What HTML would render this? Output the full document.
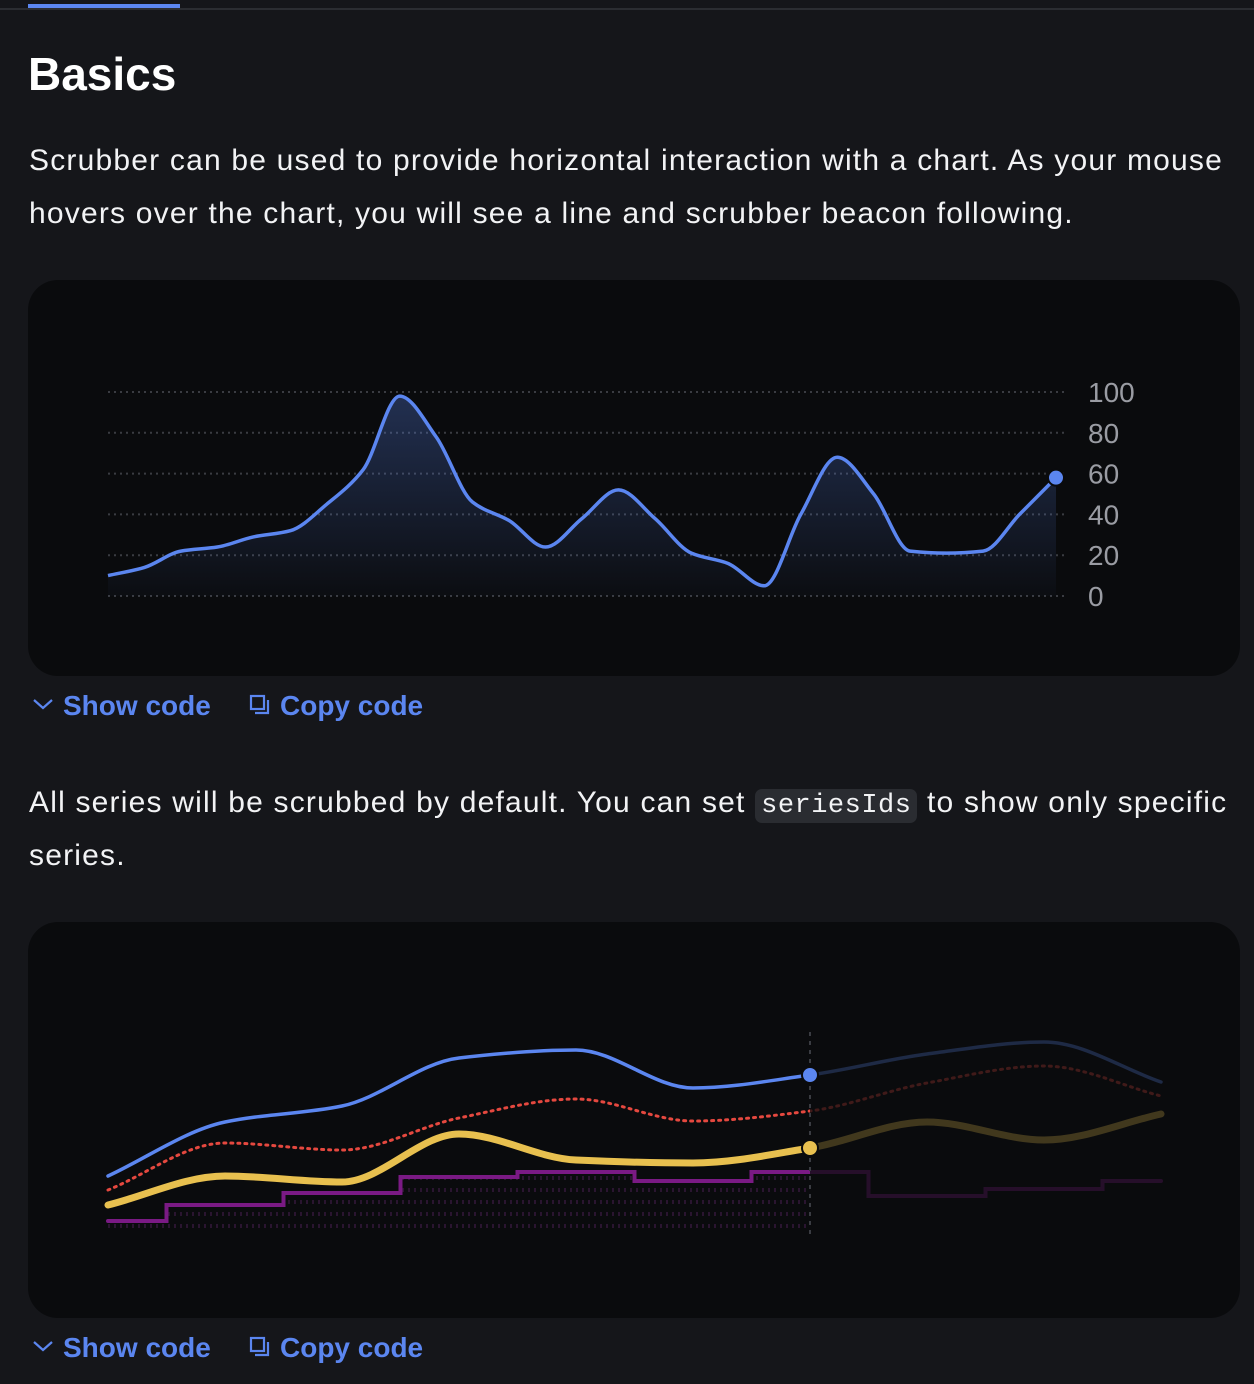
<!DOCTYPE html>
<html><head><meta charset="utf-8">
<style>
body{margin:0;width:1254px;height:1384px;background:#15161a;font-family:"Liberation Sans",sans-serif;color:#f2f3f5;position:relative;overflow:hidden}
.abs{position:absolute;white-space:nowrap}
.p{font-size:30px;left:29px;letter-spacing:1.2px}
.panel{position:absolute;left:28px;width:1212px;height:396px;background:#0a0b0d;border-radius:30px}
.link{font-size:28px;font-weight:bold;color:#5b86f0}
code{font-family:"Liberation Mono",monospace;background:#2a2c31;border-radius:7px;padding:2px 6px;font-size:27px;letter-spacing:0.5px}
</style></head><body>
<div class="abs" style="left:0;top:8px;width:1254px;height:2px;background:#2b2d32"></div>
<div class="abs" style="left:28px;top:4px;width:152px;height:4px;background:#5b86f0"></div>
<div class="abs" style="left:28px;top:47px;font-size:46px;font-weight:bold;color:#fff">Basics</div>
<div class="abs p" style="top:144px">Scrubber can be used to provide horizontal interaction with a chart. As your mouse</div>
<div class="abs p" style="top:197px">hovers over the chart, you will see a line and scrubber beacon following.</div>

<div class="panel" style="top:280px"></div>
<svg id="c1" class="abs" style="left:0;top:0" width="1254" height="700"></svg>

<div class="abs link" style="left:32px;top:690px"><svg width="22" height="14" style="margin-right:9px;vertical-align:4px"><path d="M2 3 L11 11 L20 3" fill="none" stroke="#5b86f0" stroke-width="2.2"/></svg>Show code</div>
<div class="abs link" style="left:249px;top:690px"><svg width="22" height="22" style="margin-right:9px;vertical-align:-1px"><rect x="2" y="2" width="13" height="13" fill="none" stroke="#5b86f0" stroke-width="2.2"/><path d="M6 19 H19 V6" fill="none" stroke="#5b86f0" stroke-width="2.2"/></svg>Copy code</div>

<div class="abs p" style="top:786px">All series will be scrubbed by default. You can set <code>seriesIds</code> to show only specific</div>
<div class="abs p" style="top:839px">series.</div>

<div class="panel" style="top:922px"></div>
<svg id="c2" class="abs" style="left:0;top:0" width="1254" height="1384"></svg>

<div class="abs link" style="left:32px;top:1332px"><svg width="22" height="14" style="margin-right:9px;vertical-align:4px"><path d="M2 3 L11 11 L20 3" fill="none" stroke="#5b86f0" stroke-width="2.2"/></svg>Show code</div>
<div class="abs link" style="left:249px;top:1332px"><svg width="22" height="22" style="margin-right:9px;vertical-align:-1px"><rect x="2" y="2" width="13" height="13" fill="none" stroke="#5b86f0" stroke-width="2.2"/><path d="M6 19 H19 V6" fill="none" stroke="#5b86f0" stroke-width="2.2"/></svg>Copy code</div>

<script>
// chart 1 data
const basicValues=[10,14,22,24,29,32,45,62,98,78,46,37,24,38,52,38,21,16,5,40,68,50,22,21,22,40,58];
const basicTicks=[0,20,40,60,80,100];
// chart 2 data
const categories2=[0,1,2,3,4,5,6,7,8,9];
const blueValues=[32,59,67,91,95,76,82.5,93,99,79];
const redValues=[25,48.5,45,61,70.5,59.5,64.5,78.5,87,72];
const yellowValues=[17.5,32,29,53,40,38.5,46,59,50,63];
const purpleValues=[9.5,17.5,23.5,31.5,34,29.5,34,22,25.5,29.5];
const scrubIndex=6;

const NS='http://www.w3.org/2000/svg';
function mk(p,tag,attrs){const e=document.createElementNS(NS,tag);for(const k in attrs)e.setAttribute(k,attrs[k]);p.appendChild(e);return e;}
function monotone(pts){
  const n=pts.length;if(n<2)return '';
  const dx=[],s=[];for(let i=0;i<n-1;i++){dx[i]=pts[i+1][0]-pts[i][0];s[i]=(pts[i+1][1]-pts[i][1])/dx[i];}
  const m=[s[0]];for(let i=1;i<n-1;i++){m[i]=(s[i-1]*s[i]<=0)?0:(3*(dx[i-1]+dx[i]))/((2*dx[i]+dx[i-1])/s[i-1]+(dx[i]+2*dx[i-1])/s[i]);}m[n-1]=s[n-2];
  let d='M'+pts[0][0]+','+pts[0][1];
  for(let i=0;i<n-1;i++){const h=dx[i]/3;d+=' C'+(pts[i][0]+h)+','+(pts[i][1]+m[i]*h)+' '+(pts[i+1][0]-h)+','+(pts[i+1][1]-m[i+1]*h)+' '+pts[i+1][0]+','+pts[i+1][1];}
  return d;
}
// chart 1
(function(){
  const svg=document.getElementById('c1');
  const x=i=>108+i*(1056-108)/(basicValues.length-1);
  const y=v=>596-v*2.04;
  const defs=mk(svg,'defs',{});
  const g=mk(defs,'linearGradient',{id:'ag',x1:0,y1:0,x2:0,y2:1});
  mk(g,'stop',{offset:0,'stop-color':'#5b86f0','stop-opacity':0.3});
  mk(g,'stop',{offset:1,'stop-color':'#5b86f0','stop-opacity':0.02});
  basicTicks.forEach(t=>{
    const l=mk(svg,'line',{x1:108,x2:1068,y1:y(t),y2:y(t),stroke:'#3a3c42','stroke-width':2,'stroke-dasharray':'2 4'});
    
    const tx=mk(svg,'text',{x:1088,y:y(t)+10,fill:'#9a9ca3','font-size':28,'font-family':'Liberation Sans, sans-serif'});
    tx.textContent=t;
  });
  const pts=basicValues.map((v,i)=>[x(i),y(v)]);
  const d=monotone(pts);
  const a=mk(svg,'path',{d:d+' L'+x(basicValues.length-1)+','+y(0)+' L'+x(0)+','+y(0)+' Z',fill:'url(#ag)'});
  
  const ln=mk(svg,'path',{d:d,fill:'none',stroke:'#5b86f0','stroke-width':3.5});
  
  const last=pts[pts.length-1];
  const b=mk(svg,'circle',{cx:last[0],cy:last[1],r:8,fill:'#5b86f0',stroke:'#0a0b0d','stroke-width':2});
  
})();
// chart 2
(function(){
  const svg=document.getElementById('c2');
  const x=i=>108+i*117;
  const y=v=>1240-v*2;
  const sx=x(scrubIndex);
  const defs=mk(svg,'defs',{});
  const cp1=mk(defs,'clipPath',{id:'left'});mk(cp1,'rect',{x:0,y:900,width:sx,height:420});
  const cp2=mk(defs,'clipPath',{id:'right'});mk(cp2,'rect',{x:sx,y:900,width:600,height:420});
  const pat=mk(defs,'pattern',{id:'dots',width:6,height:12,patternUnits:'userSpaceOnUse'});
  mk(pat,'rect',{x:0,y:0,width:2,height:4,fill:'#2a1530'});
  function stepPath(vals){let d='M'+x(0)+','+y(vals[0]);for(let i=1;i<vals.length;i++){const m=(x(i-1)+x(i))/2;d+=' H'+m+' V'+y(vals[i]);}d+=' H'+x(vals.length-1);return d;}
  const sp=stepPath(purpleValues);
  const series=[
    {name:'blue',d:monotone(blueValues.map((v,i)=>[x(i),y(v)])),stroke:'#5b86f0',w:3.5,dash:null},
    {name:'red',d:monotone(redValues.map((v,i)=>[x(i),y(v)])),stroke:'#e5483f',w:3,dash:'2 5'},
    {name:'yellow',d:monotone(yellowValues.map((v,i)=>[x(i),y(v)])),stroke:'#e8c04f',w:7,dash:null},
    {name:'purple',d:sp,stroke:'#7a1a84',w:4,dash:null}
  ];
  const fa=mk(svg,'path',{d:sp+' V1228 H'+x(0)+' Z',fill:'url(#dots)','clip-path':'url(#left)'});
  
  series.forEach(s=>{
    ['left','right'].forEach(side=>{
      const p=mk(svg,'path',{d:s.d,fill:'none',stroke:s.stroke,'stroke-width':s.w,'stroke-linecap':'round','clip-path':'url(#'+side+')',opacity:side==='left'?1:0.25});
      if(s.dash)p.setAttribute('stroke-dasharray',s.dash);
      
      
    });
  });
  const sl=mk(svg,'line',{x1:sx,x2:sx,y1:1032,y2:1236,stroke:'#3a3c42','stroke-width':2,'stroke-dasharray':'4 5'});
  
  const bb=mk(svg,'circle',{cx:sx,cy:y(blueValues[scrubIndex]),r:8,fill:'#5b86f0',stroke:'#0a0b0d','stroke-width':2});
  
  const yb=mk(svg,'circle',{cx:sx,cy:y(yellowValues[scrubIndex]),r:8,fill:'#e8c04f',stroke:'#0a0b0d','stroke-width':2});
  
})();
</script>
</body></html>
